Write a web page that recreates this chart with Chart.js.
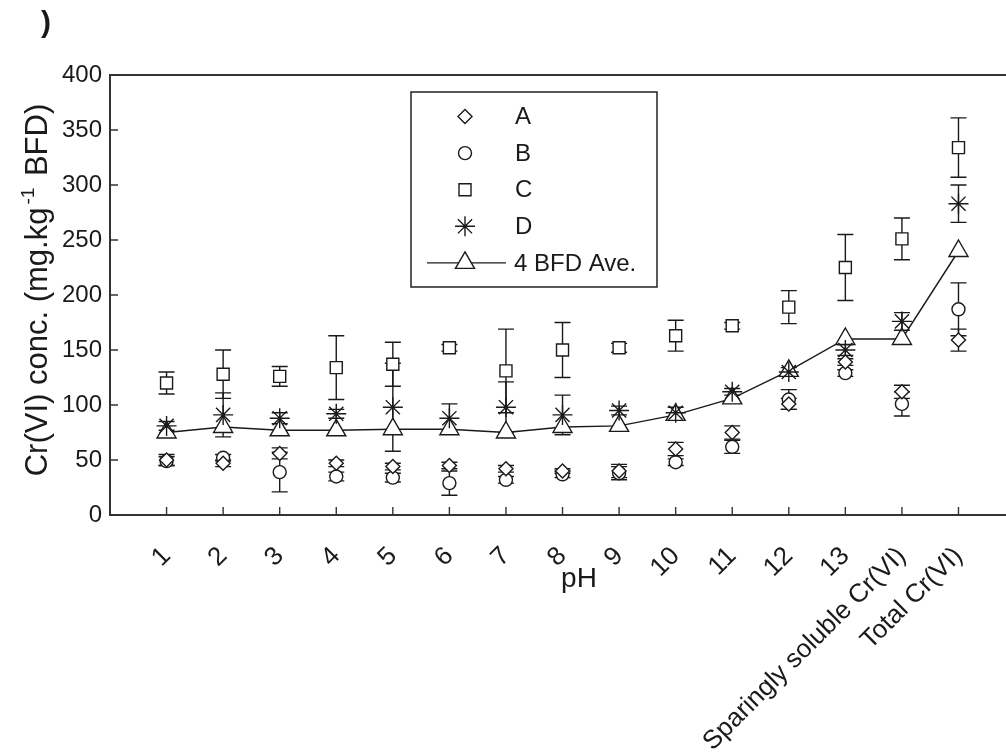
<!DOCTYPE html>
<html>
<head>
<meta charset="utf-8">
<script src="https://cdn.jsdelivr.net/npm/chart.js"></script>
<style>
  body { margin: 0; background: #fff; }
  #wrap { position: relative; width: 1006px; height: 753px; }
</style>
</head>
<body>
<div id="wrap"><canvas id="grafico" width="1006" height="753"></canvas></div>
<script>
// categorias do eixo x (pH 1-13 + frações)
const categorias = ['1', '2', '3', '4', '5', '6', '7', '8', '9', '10', '11', '12', '13',
  'Sparingly soluble Cr(VI)', 'Total Cr(VI)'];

// valores (mg/kg BFD)
const serieA = [50, 47, 56, 47, 44, 45, 42, 40, 40, 60, 75, 101, 139, 112, 159];
const erroA  = [5, 3, 5, 3, 3, 3, 3, 2, 6, 6, 6, 5, 3, 6, 10];
const serieB = [49, 52, 39, 35, 34, 29, 32, 37, 38, 48, 62, 105, 129, 101, 187];
const erroB  = [4, 3, 18, 4, 4, 11, 3, 3, 6, 3, 6, 9, 3, 11, 24];
const serieC = [120, 128, 126, 134, 137, 152, 131, 150, 152, 163, 172, 189, 225, 251, 334];
const erroC  = [10, 22, 9, 29, 20, 3, 38, 25, 4, 14, 3, 15, 30, 19, 27];
const serieD = [81, 91, 88, 92, 98, 88, 98, 91, 95, 93, 112, 130, 150, 176, 283];
const erroD  = [4, 20, 5, 4, 40, 13, 23, 18, 4, 5, 3, 4, 5, 8, 17];
const media  = [75, 80, 77, 77, 78, 78, 75, 80, 81, 91, 106, 131, 160, 160, 240];

const ticksY = [0, 50, 100, 150, 200, 250, 300, 350, 400];

const fonte = '"Liberation Sans", Arial, Helvetica, sans-serif';
const cor = '#1a1a1a';

function pontos(valores) {
  return valores.map((v, i) => ({ x: i + 1, y: v }));
}

function serie(label, valores, erros, estilo, raio) {
  return {
    label: label,
    data: pontos(valores),
    erros: erros,
    showLine: false,
    pointStyle: estilo,
    pointRadius: raio,
    pointBorderWidth: 1.4,
    borderColor: cor,
    backgroundColor: '#fff',
    pointBackgroundColor: '#fff'
  };
}

const conjuntos = [
  serie('A', serieA, erroA, 'rectRot', 7),
  serie('B', serieB, erroB, 'circle', 6.5),
  serie('C', serieC, erroC, 'rect', 8.5),
  serie('D', serieD, erroD, 'star', 10),
  {
    label: '4 BFD Ave.',
    data: pontos(media),
    showLine: true,
    borderColor: cor,
    borderWidth: 1.4,
    pointStyle: 'triangle',
    pointRadius: 11,
    pointBorderWidth: 1.4,
    pointBackgroundColor: '#fff',
    backgroundColor: '#fff',
    tension: 0
  }
];

// barras de erro desenhadas com as escalas do próprio gráfico
const barrasErro = {
  id: 'barrasErro',
  beforeDatasetsDraw(chart) {
    const ctx = chart.ctx;
    const sx = chart.scales.x, sy = chart.scales.y;
    ctx.save();
    ctx.strokeStyle = cor;
    ctx.lineWidth = 1.4;
    chart.data.datasets.forEach(ds => {
      if (!ds.erros) return;
      ds.data.forEach((p, i) => {
        const e = ds.erros[i];
        const px = sx.getPixelForValue(p.x);
        const yTop = sy.getPixelForValue(p.y + e);
        const yBot = sy.getPixelForValue(p.y - e);
        ctx.beginPath();
        ctx.moveTo(px, yTop); ctx.lineTo(px, yBot);
        ctx.moveTo(px - 8, yTop); ctx.lineTo(px + 8, yTop);
        ctx.moveTo(px - 8, yBot); ctx.lineTo(px + 8, yBot);
        ctx.stroke();
      });
    });
    ctx.restore();
  }
};

// moldura, ticks internos, legenda e títulos
const decoracao = {
  id: 'decoracao',
  afterDraw(chart) {
    const ctx = chart.ctx;
    const area = chart.chartArea;
    const sx = chart.scales.x, sy = chart.scales.y;
    ctx.save();

    ctx.strokeStyle = '#333';
    ctx.lineWidth = 2;
    ctx.beginPath();
    ctx.moveTo(area.right + 2, area.top);
    ctx.lineTo(area.left, area.top);
    ctx.lineTo(area.left, area.bottom);
    ctx.lineTo(area.right + 2, area.bottom);
    ctx.stroke();

    ctx.lineWidth = 1.4;
    ctx.beginPath();
    ticksY.forEach(v => {
      const py = sy.getPixelForValue(v);
      ctx.moveTo(area.left, py); ctx.lineTo(area.left + 8, py);
    });
    categorias.forEach((c, i) => {
      const px = sx.getPixelForValue(i + 1);
      ctx.moveTo(px, area.bottom); ctx.lineTo(px, area.bottom - 8);
    });
    ctx.stroke();

    // legenda
    const lx = 411, ly = 92, lw = 246, lh = 195;
    ctx.strokeStyle = '#222';
    ctx.lineWidth = 1.5;
    ctx.strokeRect(lx, ly, lw, lh);
    ctx.font = '24px ' + fonte;
    ctx.textBaseline = 'middle';
    ctx.textAlign = 'left';
    chart.data.datasets.forEach((ds, i) => {
      const yy = ly + 24.5 + i * 36.6;
      ctx.strokeStyle = cor;
      ctx.fillStyle = '#fff';
      ctx.lineWidth = 1.4;
      if (ds.showLine) {
        ctx.beginPath();
        ctx.moveTo(427, yy); ctx.lineTo(506, yy);
        ctx.stroke();
      }
      Chart.helpers.drawPoint(ctx, {
        pointStyle: ds.pointStyle, rotation: 0,
        radius: ds.pointRadius, borderWidth: 1.4
      }, 465, yy);
      ctx.fillStyle = cor;
      ctx.fillText(ds.label, ds.showLine ? 514 : 515, yy + 1);
    });

    // título do eixo y com sobrescrito
    ctx.fillStyle = cor;
    ctx.save();
    ctx.translate(47, 290);
    ctx.rotate(-Math.PI / 2);
    const p1 = 'Cr(VI) conc. (mg.kg', p2 = '-1', p3 = ' BFD)';
    ctx.font = '31px ' + fonte;
    const w1 = ctx.measureText(p1).width, w3 = ctx.measureText(p3).width;
    ctx.font = '19px ' + fonte;
    const w2 = ctx.measureText(p2).width;
    let x0 = -(w1 + w2 + w3 + 6) / 2;
    ctx.textAlign = 'left';
    ctx.textBaseline = 'alphabetic';
    ctx.font = '31px ' + fonte;
    ctx.fillText(p1, x0, 0);
    ctx.font = '19px ' + fonte;
    ctx.fillText(p2, x0 + w1 + 3, -13);
    ctx.font = '31px ' + fonte;
    ctx.fillText(p3, x0 + w1 + w2 + 6, 0);
    ctx.restore();

    // título do eixo x
    ctx.font = '28px ' + fonte;
    ctx.textAlign = 'center';
    ctx.textBaseline = 'middle';
    ctx.fillText('pH', 579, 579);

    // resto do rótulo do painel
    ctx.font = 'bold 30px ' + fonte;
    ctx.fillText(')', 46, 24);

    ctx.restore();
  }
};

const grafico = new Chart(document.getElementById('grafico').getContext('2d'), {
  type: 'scatter',
  data: { datasets: conjuntos },
  options: {
    responsive: false,
    animation: false,
    layout: { autoPadding: false, padding: { top: 75, right: 0, left: 0, bottom: 0 } },
    plugins: {
      legend: { display: false },
      tooltip: { enabled: false }
    },
    scales: {
      x: {
        type: 'linear',
        min: 0,
        max: 15.84,
        afterBuildTicks: s => { s.ticks = categorias.map((c, i) => ({ value: i + 1 })); },
        afterFit: s => { s.height = 238; s.paddingLeft = 0; s.paddingRight = 0; },
        grid: { display: false, drawTicks: false },
        border: { display: false },
        ticks: {
          autoSkip: false,
          minRotation: 45,
          maxRotation: 45,
          padding: 26,
          color: cor,
          font: { family: fonte, size: 26 },
          callback: (v, i) => categorias[i]
        }
      },
      y: {
        min: 0,
        max: 400,
        afterBuildTicks: s => { s.ticks = ticksY.map(v => ({ value: v })); },
        afterFit: s => { s.width = 110; s.paddingTop = 0; s.paddingBottom = 0; },
        grid: { display: false, drawTicks: false },
        border: { display: false },
        ticks: {
          padding: 8,
          color: cor,
          font: { family: fonte, size: 24 }
        }
      }
    }
  },
  plugins: [barrasErro, decoracao]
});
</script>
</body>
</html>
